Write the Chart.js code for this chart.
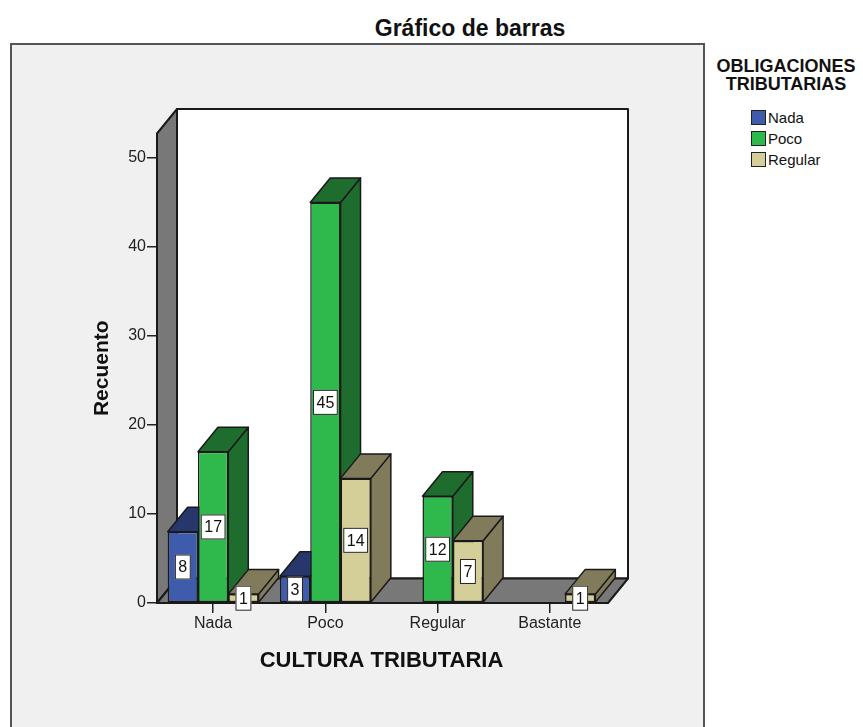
<!DOCTYPE html>
<html lang="es">
<head>
<meta charset="utf-8">
<title>Gráfico de barras</title>
<script src="https://cdn.jsdelivr.net/npm/chart.js@4.4.1/dist/chart.umd.min.js"></script>
<style>
  html, body { margin: 0; padding: 0; background: #fff; }
  body { width: 863px; height: 727px; position: relative; overflow: hidden; font-family: Arial, "Liberation Sans", sans-serif; }
  #marco { position: absolute; left: 10px; top: 43px; width: 691px; height: 720px; background: #f0f0f0; border: 2px solid #555; }
  #titulo { position: absolute; left: 270px; width: 400px; top: 15px; text-align: center; font-weight: bold; font-size: 23px; color: #111; }
  #leyenda { position: absolute; left: 700px; width: 172px; top: 57px; color: #111; }
  #leyenda .cab { text-align: center; font-weight: bold; font-size: 18px; line-height: 18px; }
  #leyenda ul { list-style: none; margin: 0; padding: 0; position: absolute; left: 51px; top: 50px; }
  #leyenda li { height: 21px; display: flex; align-items: center; font-size: 15px; }
  #leyenda li span { display: inline-block; width: 13px; height: 13px; border: 1px solid #222; margin-right: 2px; }
  #caja { position: absolute; left: 0; top: 0; width: 863px; height: 727px; }
</style>
</head>
<body>
<div id="marco"></div>
<div id="titulo">Gráfico de barras</div>
<div id="leyenda">
  <div class="cab">OBLIGACIONES<br>TRIBUTARIAS</div>
  <ul id="items"></ul>
</div>
<div id="caja"><canvas id="grafico"></canvas></div>

<script>
// Datos
const categorias = ['Nada', 'Poco', 'Regular', 'Bastante'];
const series = ['Nada', 'Poco', 'Regular'];
const recuentoNada = [8, 3, 0, 0];
const recuentoPoco = [17, 45, 12, 0];
const recuentoRegular = [1, 14, 7, 1];
const ticksY = [0, 10, 20, 30, 40, 50];

// colores: cara frontal y caras laterales/superior
const frente = ['#3f5bab', '#2fb84b', '#d4cf98'];
const sombra = ['#27376c', '#1e6d2e', '#807b5a'];
const PARED = '#787878';
const DX = 20, DY = -24.5;

function poligono(ctx, pts, relleno) {
  ctx.beginPath();
  ctx.moveTo(pts[0][0], pts[0][1]);
  for (let i = 1; i < pts.length; i++) ctx.lineTo(pts[i][0], pts[i][1]);
  ctx.closePath();
  ctx.fillStyle = relleno;
  ctx.fill();
  ctx.stroke();
}

// dibuja paredes, suelo y caras 3D de las barras
const efecto3D = {
  id: 'efecto3D',
  beforeDatasetsDraw(chart) {
    const { ctx, chartArea: a } = chart;
    ctx.save();
    ctx.lineJoin = 'round';
    ctx.strokeStyle = '#1a1a1a';
    ctx.lineWidth = 2;
    // pared del fondo
    poligono(ctx, [[a.left + DX, a.top + DY], [a.right + DX + 2, a.top + DY], [a.right + DX + 2, a.bottom + DY], [a.left + DX, a.bottom + DY]], '#fff');
    // pared izquierda
    poligono(ctx, [[a.left, a.top], [a.left + DX, a.top + DY], [a.left + DX, a.bottom + DY], [a.left, a.bottom]], PARED);
    // suelo
    poligono(ctx, [[a.left, a.bottom], [a.left + DX, a.bottom + DY], [a.right + DX + 2, a.bottom + DY], [a.right + 2, a.bottom]], PARED);

    // caras laterales y superiores, de izquierda a derecha
    const barras = [];
    chart.data.datasets.forEach((ds, i) => {
      chart.getDatasetMeta(i).data.forEach((el, j) => {
        if (!ds.data[j]) return;
        const p = el.getProps(['x', 'y', 'base', 'width'], true);
        barras.push({ p, i });
      });
    });
    barras.sort((u, v) => u.p.x - v.p.x);
    ctx.lineWidth = 1.5;
    barras.forEach(({ p, i }) => {
      const x0 = p.x - p.width / 2, x1 = p.x + p.width / 2;
      poligono(ctx, [[x1, p.base], [x1 + DX, p.base + DY], [x1 + DX, p.y + DY], [x1, p.y]], sombra[i]);
      poligono(ctx, [[x0, p.y], [x0 + DX, p.y + DY], [x1 + DX, p.y + DY], [x1, p.y]], sombra[i]);
    });
    ctx.restore();
  },
  afterDatasetsDraw(chart) {
    const { ctx } = chart;
    ctx.save();
    ctx.font = '16px Arial, "Liberation Sans", sans-serif';
    ctx.textAlign = 'center';
    ctx.textBaseline = 'middle';
    chart.data.datasets.forEach((ds, i) => {
      chart.getDatasetMeta(i).data.forEach((el, j) => {
        const v = ds.data[j];
        if (!v) return;
        const p = el.getProps(['x', 'y', 'base'], true);
        const cy = (p.y + p.base) / 2;
        const txt = String(v);
        const w = ctx.measureText(txt).width + 7, h = 25;
        ctx.fillStyle = '#fff';
        ctx.fillRect(p.x - w / 2, cy - h / 2, w, h);
        ctx.strokeStyle = '#222';
        ctx.lineWidth = 1;
        ctx.strokeRect(p.x - w / 2 + 0.5, cy - h / 2 + 0.5, w - 1, h - 1);
        ctx.fillStyle = '#111';
        ctx.fillText(txt, p.x, cy + 1);
      });
    });
    ctx.restore();
  }
};

const valores = [recuentoNada, recuentoPoco, recuentoRegular];

new Chart(document.getElementById('grafico'), {
  type: 'bar',
  data: {
    labels: categorias,
    datasets: series.map((nombre, i) => ({
      label: nombre,
      data: valores[i],
      backgroundColor: frente[i],
      borderColor: '#1a1a1a',
      borderWidth: 1.5,
      borderSkipped: false,
      categoryPercentage: 0.81,
      barPercentage: 1.0
    }))
  },
  options: {
    responsive: true,
    maintainAspectRatio: false,
    animation: false,
    layout: { padding: { top: 133.5, right: 257, bottom: 0, left: 0 } },
    plugins: {
      legend: { display: false },
      tooltip: { enabled: false }
    },
    scales: {
      x: {
        grid: { display: true, offset: false, drawOnChartArea: false, tickLength: 10, color: '#222', lineWidth: 1.5 },
        border: { display: false },
        ticks: { font: { size: 16, family: 'Arial' }, color: '#222', padding: 1 },
        title: { display: true, text: 'CULTURA TRIBUTARIA', font: { size: 22, weight: 'bold', family: 'Arial' }, color: '#111', padding: { top: 0, bottom: 53 } },
        afterFit: s => { s.height = 124; }
      },
      y: {
        min: 0,
        max: 52.75,
        grid: { drawOnChartArea: false, tickLength: 10, color: '#222', lineWidth: 1.5 },
        border: { display: false },
        ticks: {
          stepSize: 10,
          includeBounds: false,
          font: { size: 16, family: 'Arial' },
          color: '#222',
          padding: 1
        },
        afterBuildTicks: s => { s.ticks = ticksY.map(v => ({ value: v })); },
        title: { display: true, text: 'Recuento', font: { size: 21, weight: 'bold', family: 'Arial' }, color: '#111', padding: { top: 90, bottom: 0 } },
        afterFit: s => { s.width = 157; }
      }
    }
  },
  plugins: [efecto3D]
});

// leyenda en HTML a partir de las series
const items = document.getElementById('items');
series.forEach((nombre, i) => {
  const li = document.createElement('li');
  li.innerHTML = '<span style="background:' + frente[i] + '"></span>' + nombre;
  items.appendChild(li);
});
</script>
</body>
</html>
